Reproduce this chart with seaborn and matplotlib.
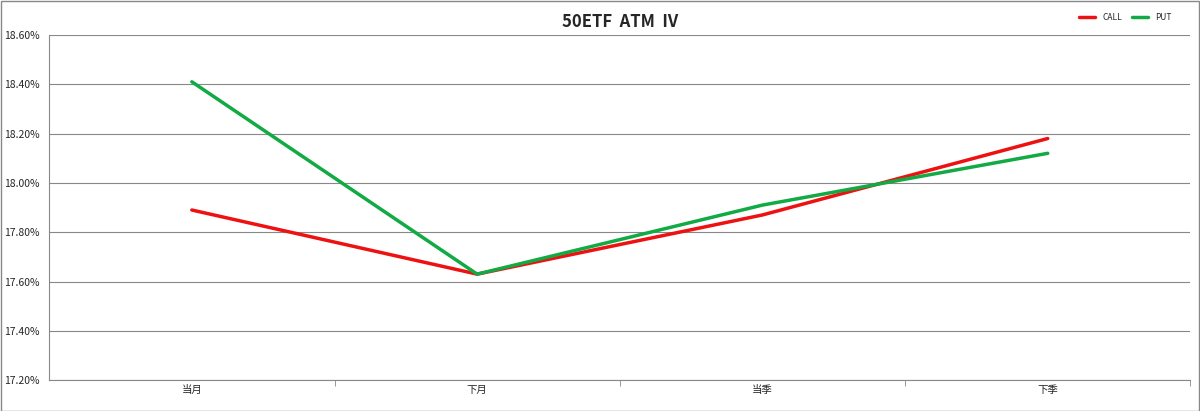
import matplotlib
matplotlib.use("Agg")
import matplotlib.pyplot as plt
import seaborn as sns
import pandas as pd
from matplotlib.ticker import FuncFormatter, FixedLocator

categories = ["当月", "下月", "当季", "下季"]
call_iv = [17.89, 17.63, 17.87, 18.18]
put_iv = [18.41, 17.63, 17.91, 18.12]

sns.set_style("white")
plt.rcParams['font.family'] = ['Noto Sans CJK SC', 'DejaVu Sans']

df = pd.DataFrame({"x": list(range(4)) * 2,
                   "iv": call_iv + put_iv,
                   "series": ["CALL"] * 4 + ["PUT"] * 4})

fig = plt.figure(figsize=(12, 4.11), dpi=100)
ax = fig.add_axes([0.041, 0.075, 0.951, 0.84])
sns.lineplot(data=df, x="x", y="iv", hue="series",
             palette={"CALL": "#ee1111", "PUT": "#11aa44"}, linewidth=2.5, ax=ax)
ax.set_xlim(-0.5, 3.5)
ax.set_ylim(17.2, 18.6)
ax.set_yticks([17.2 + 0.2 * i for i in range(8)])
ax.yaxis.set_major_formatter(FuncFormatter(lambda v, p: f"{v:.2f}%"))
ax.set_xticks(range(4))
ax.set_xticklabels(categories)
ax.xaxis.set_minor_locator(FixedLocator([0.5, 1.5, 2.5, 3.5]))
ax.tick_params(axis="x", which="minor", length=4, color="#888888", bottom=True)
ax.tick_params(axis="x", which="major", length=0)
ax.tick_params(labelsize=7.5)
ax.grid(axis="y", color="#888888", linewidth=0.8)
for s in ["top", "right"]:
    ax.spines[s].set_visible(False)
for s in ["left", "bottom"]:
    ax.spines[s].set_color("#888888")
ax.set_xlabel("")
ax.set_ylabel("")
ax.set_title("50ETF  ATM  IV", fontsize=12, fontweight="bold", pad=6)
leg = ax.legend(loc="upper right", bbox_to_anchor=(0.99, 1.085), ncol=2, frameon=False,
                fontsize=6, handlelength=2.0, columnspacing=1.2, title=None)
fig.patches.append(plt.Rectangle((0.001, 0.001), 0.998, 0.997, transform=fig.transFigure,
                                 fill=False, edgecolor="#888888", linewidth=1))
fig.savefig("out.png", dpi=100)
